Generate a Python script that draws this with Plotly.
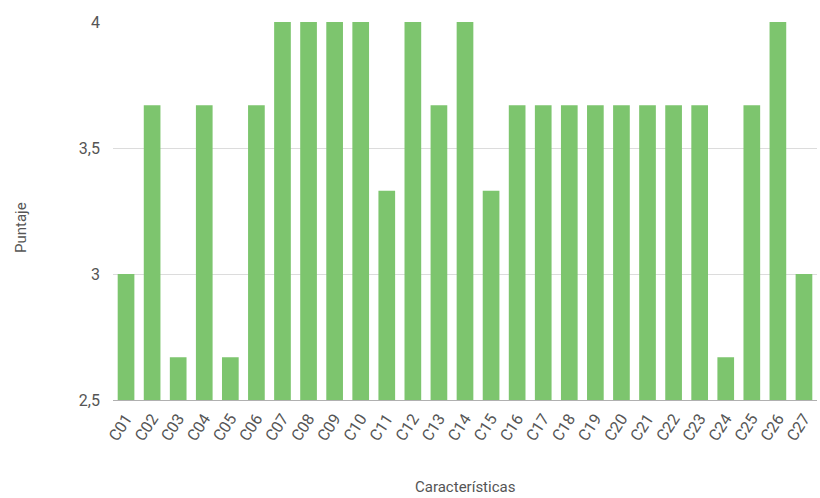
import plotly.graph_objects as go

categorias = [f"C{i:02d}" for i in range(1, 28)]
puntajes = [3.0, 3.67, 2.67, 3.67, 2.67, 3.67, 4.0, 4.0, 4.0, 4.0,
            3.33, 4.0, 3.67, 4.0, 3.33, 3.67, 3.67, 3.67, 3.67, 3.67,
            3.67, 3.67, 3.67, 2.67, 3.67, 4.0, 3.0]
y_ticks = [2.5, 3, 3.5, 4]

W, H = 820, 498
L, R, T, B = 113, 3, 22, 98

fig = go.Figure(go.Bar(
    x=categorias, y=puntajes,
    marker=dict(color="#7dc56e", line=dict(width=0)),
))

txt = "#555"
fig.update_layout(
    width=W, height=H,
    margin=dict(l=L, r=R, t=T, b=B),
    paper_bgcolor="white", plot_bgcolor="white",
    separators=",.",
    bargap=0.36,
    showlegend=False,
    font=dict(family="Roboto, Arial, sans-serif", size=16, color=txt),
    annotations=[
        dict(text="Características", xref="paper", yref="paper",
             x=0.5, y=-(487 - (H - B)) / (H - T - B), xanchor="center", yanchor="middle",
             showarrow=False, font=dict(size=15, color=txt)),
        dict(text="Puntaje", xref="paper", yref="paper", textangle=-90,
             x=-(L - 21) / (W - L - R), y=((H - B) - 228) / (H - T - B),
             xanchor="center", yanchor="middle",
             showarrow=False, font=dict(size=15, color=txt)),
    ],
)
fig.update_xaxes(
    tickangle=-57, tickfont=dict(size=16, color=txt),
    showgrid=False, showline=True, linecolor="#b0b0b0", linewidth=1,
    ticks="", range=[-0.5, 26.5], ticklabelstandoff=2,
)
fig.update_yaxes(
    range=[2.5, 4], tickvals=y_ticks,
    tickfont=dict(size=16, color=txt),
    showgrid=True, gridcolor="#dcdcdc", gridwidth=1,
    zeroline=False, ticks="", ticklabelstandoff=12,
)

fig.write_html("out.html")
